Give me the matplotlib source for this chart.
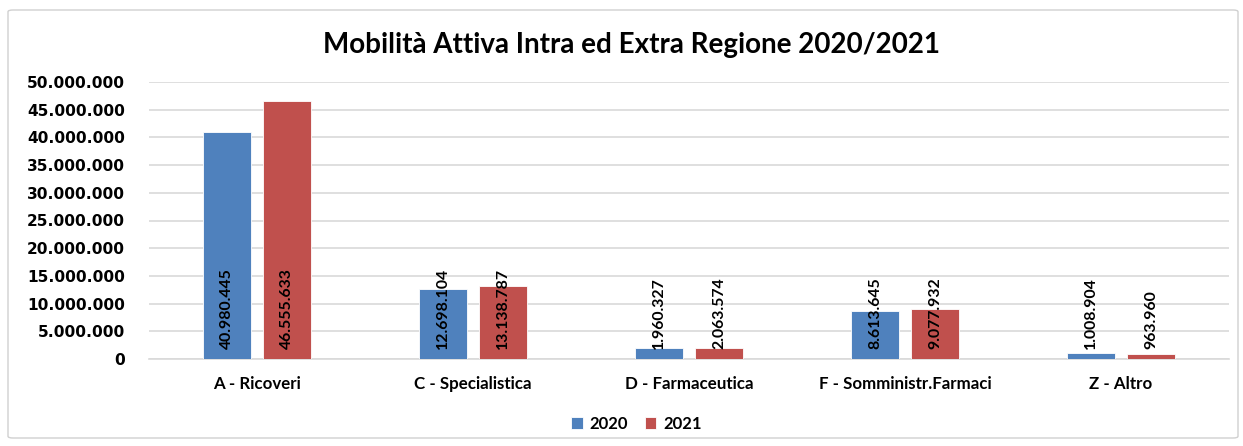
import matplotlib
matplotlib.use("Agg")
import matplotlib.pyplot as plt
import numpy as np
from matplotlib.patches import FancyBboxPatch

categories = ["A - Ricoveri", "C - Specialistica", "D - Farmaceutica",
              "F - Somministr.Farmaci", "Z - Altro"]
values_2020 = [40980445, 12698104, 1960327, 8613645, 1008904]
values_2021 = [46555633, 13138787, 2063574, 9077932, 963960]
series_names = ["2020", "2021"]
yticks = list(range(0, 50000001, 5000000))

def fmt(v):
    return f"{v:,}".replace(",", ".")

plt.rcParams['font.family'] = ['Lato', 'DejaVu Sans']

fig = plt.figure(figsize=(12.43, 4.46), dpi=100)
ax = fig.add_axes([149/1243, 87/446, 1080/1243, 277/446])

frame = FancyBboxPatch((8/1243, 8/446), 1230/1243, 428/446,
                       boxstyle="round,pad=0,rounding_size=0.004",
                       transform=fig.transFigure, fill=False,
                       edgecolor="#d0d0d0", linewidth=1.0)
fig.patches.append(frame)

x = np.arange(len(categories))
w = 0.222
off = 0.139
colors = ["#4f81bd", "#c0504d"]
for vals, sign, col, name in [(values_2020, -1, colors[0], series_names[0]),
                              (values_2021, 1, colors[1], series_names[1])]:
    bars = ax.bar(x + sign * off, vals, width=w, color=col, label=name,
                  edgecolor="white", linewidth=0.6, zorder=3)
    for b, v in zip(bars, vals):
        ax.annotate(fmt(v), (b.get_x() + b.get_width() / 2, 0),
                    xytext=(0, 7), textcoords="offset points",
                    rotation=90, ha="center", va="bottom",
                    fontsize=11.4, fontweight="bold", color="black", zorder=4)

ax.set_xlim(-0.5, len(categories) - 0.5)
ax.set_ylim(0, 50000000)
ax.set_yticks(yticks)
ax.set_yticklabels([fmt(t) for t in yticks], fontsize=11.1, fontweight="bold",
                   family="DejaVu Sans")
ax.set_xticks(x)
ax.set_xticklabels(categories, fontsize=12.2, fontweight="bold")
ax.tick_params(axis="both", length=0)
ax.tick_params(axis="y", pad=17.5)
ax.tick_params(axis="x", pad=12)
ax.grid(axis="y", color="#d9d9d9", linewidth=1.2, zorder=0)
for s in ["top", "right", "left"]:
    ax.spines[s].set_visible(False)
ax.spines["bottom"].set_color("#d9d9d9")
ax.spines["bottom"].set_linewidth(1.2)

fig.text(0.508, 0.9, "Mobilità Attiva Intra ed Extra Regione 2020/2021",
         ha="center", va="center", fontsize=20, fontweight="bold")

fig.legend(loc="center", bbox_to_anchor=(0.512, 0.049), ncol=2, frameon=False,
           prop={"size": 12, "weight": "bold"}, handlelength=0.7,
           handleheight=0.7, handletextpad=0.4, columnspacing=1.0)

fig.savefig("out.png", dpi=100)
